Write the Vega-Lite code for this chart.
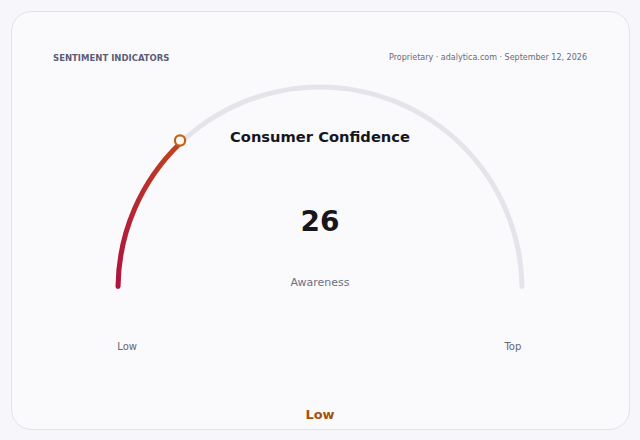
{
  "$schema": "https://vega.github.io/schema/vega-lite/v6.json",
  "width": 640,
  "height": 440,
  "autosize": {"type": "fit", "contains": "padding"},
  "padding": 11,
  "background": "#f7f7fb",
  "config": {
    "view": {"fill": "#fafafd", "stroke": "#e1e1ea", "strokeWidth": 1, "cornerRadius": 20},
    "font": "DejaVu Sans",
    "text": {"font": "DejaVu Sans"}
  },
  "datasets": {
    "track": [{"start": 0, "end": 100}],
    "progress": [{"start": 0, "end": 26}],
    "reading": [{
      "section": "SENTIMENT INDICATORS",
      "source": "Proprietary · adalytica.com · September 12, 2026",
      "metric": "Consumer Confidence",
      "value": 26,
      "measure": "Awareness",
      "band": "Low",
      "min_label": "Low",
      "max_label": "Top",
      "marker_x": -0.693,
      "marker_y": 0.735
    }]
  },
  "layer": [
    {
      "data": {"name": "track"},
      "mark": {"type": "arc", "radius": 204.5, "radius2": 199.5, "cornerRadius": 2.5, "color": "#e4e4ea"},
      "encoding": {
        "theta": {"field": "start", "type": "quantitative", "stack": null, "scale": {"domain": [0, 100], "range": [-1.5707963, 1.5707963]}},
        "theta2": {"field": "end"},
        "x": {"datum": 0, "type": "quantitative", "scale": {"domain": [-1.53, 1.53], "nice": false, "zero": false}, "axis": null},
        "y": {"datum": 0, "type": "quantitative", "scale": {"domain": [-0.693, 1.376], "nice": false, "zero": false}, "axis": null}
      }
    },
    {
      "data": {"name": "progress"},
      "mark": {"type": "arc", "radius": 204.5, "radius2": 199.5, "cornerRadius": 2.5,
        "color": {"gradient": "linear", "x1": 0, "y1": 1, "x2": 1, "y2": 0,
          "stops": [{"offset": 0, "color": "#b0123f"}, {"offset": 1, "color": "#c2441d"}]}},
      "encoding": {
        "theta": {"field": "start", "type": "quantitative", "stack": null, "scale": {"domain": [0, 100], "range": [-1.5707963, 1.5707963]}},
        "theta2": {"field": "end"},
        "x": {"datum": 0, "type": "quantitative", "scale": {"domain": [-1.53, 1.53], "nice": false, "zero": false}, "axis": null},
        "y": {"datum": 0, "type": "quantitative", "scale": {"domain": [-0.693, 1.376], "nice": false, "zero": false}, "axis": null}
      }
    },
    {
      "data": {"name": "reading"},
      "mark": {"type": "point", "filled": false, "fill": "#fdf7ef", "fillOpacity": 1, "stroke": "#c0641a", "strokeWidth": 2.2, "size": 105, "opacity": 1},
      "encoding": {
        "x": {"field": "marker_x", "type": "quantitative", "scale": {"domain": [-1.53, 1.53], "nice": false, "zero": false}, "axis": null},
        "y": {"field": "marker_y", "type": "quantitative", "scale": {"domain": [-0.693, 1.376], "nice": false, "zero": false}, "axis": null}
      }
    },
    {
      "data": {"name": "reading"},
      "mark": {"type": "text", "align": "left", "baseline": "middle", "fontSize": 8.5, "fontWeight": "bold", "letterSpacing": 0.4, "color": "#5b5e74"},
      "encoding": {
        "text": {"field": "section"},
        "x": {"datum": -1.322, "type": "quantitative", "scale": {"domain": [-1.53, 1.53], "nice": false, "zero": false}, "axis": null},
        "y": {"datum": 1.145, "type": "quantitative", "scale": {"domain": [-0.693, 1.376], "nice": false, "zero": false}, "axis": null}
      }
    },
    {
      "data": {"name": "reading"},
      "mark": {"type": "text", "align": "right", "baseline": "middle", "fontSize": 8, "color": "#676a7a"},
      "encoding": {
        "text": {"field": "source"},
        "x": {"datum": 1.322, "type": "quantitative", "scale": {"domain": [-1.53, 1.53], "nice": false, "zero": false}, "axis": null},
        "y": {"datum": 1.145, "type": "quantitative", "scale": {"domain": [-0.693, 1.376], "nice": false, "zero": false}, "axis": null}
      }
    },
    {
      "data": {"name": "reading"},
      "mark": {"type": "text", "align": "center", "baseline": "middle", "fontSize": 14.7, "fontWeight": "bold", "color": "#16161d"},
      "encoding": {
        "text": {"field": "metric"},
        "x": {"datum": 0, "type": "quantitative", "scale": {"domain": [-1.53, 1.53], "nice": false, "zero": false}, "axis": null},
        "y": {"datum": 0.746, "type": "quantitative", "scale": {"domain": [-0.693, 1.376], "nice": false, "zero": false}, "axis": null}
      }
    },
    {
      "data": {"name": "reading"},
      "mark": {"type": "text", "align": "center", "baseline": "middle", "fontSize": 28, "fontWeight": "bold", "color": "#16161d"},
      "encoding": {
        "text": {"field": "value", "type": "quantitative", "format": "d"},
        "x": {"datum": 0, "type": "quantitative", "scale": {"domain": [-1.53, 1.53], "nice": false, "zero": false}, "axis": null},
        "y": {"datum": 0.328, "type": "quantitative", "scale": {"domain": [-0.693, 1.376], "nice": false, "zero": false}, "axis": null}
      }
    },
    {
      "data": {"name": "reading"},
      "mark": {"type": "text", "align": "center", "baseline": "middle", "fontSize": 11, "color": "#6e6e7e"},
      "encoding": {
        "text": {"field": "measure"},
        "x": {"datum": 0, "type": "quantitative", "scale": {"domain": [-1.53, 1.53], "nice": false, "zero": false}, "axis": null},
        "y": {"datum": 0.03, "type": "quantitative", "scale": {"domain": [-0.693, 1.376], "nice": false, "zero": false}, "axis": null}
      }
    },
    {
      "data": {"name": "reading"},
      "mark": {"type": "text", "align": "center", "baseline": "middle", "fontSize": 10, "color": "#66666f"},
      "encoding": {
        "text": {"field": "min_label"},
        "x": {"datum": -0.955, "type": "quantitative", "scale": {"domain": [-1.53, 1.53], "nice": false, "zero": false}, "axis": null},
        "y": {"datum": -0.287, "type": "quantitative", "scale": {"domain": [-0.693, 1.376], "nice": false, "zero": false}, "axis": null}
      }
    },
    {
      "data": {"name": "reading"},
      "mark": {"type": "text", "align": "center", "baseline": "middle", "fontSize": 10, "color": "#66666f"},
      "encoding": {
        "text": {"field": "max_label"},
        "x": {"datum": 0.955, "type": "quantitative", "scale": {"domain": [-1.53, 1.53], "nice": false, "zero": false}, "axis": null},
        "y": {"datum": -0.287, "type": "quantitative", "scale": {"domain": [-0.693, 1.376], "nice": false, "zero": false}, "axis": null}
      }
    },
    {
      "data": {"name": "reading"},
      "mark": {"type": "text", "align": "center", "baseline": "middle", "fontSize": 13, "fontWeight": "bold", "color": "#a5520f"},
      "encoding": {
        "text": {"field": "band"},
        "x": {"datum": 0, "type": "quantitative", "scale": {"domain": [-1.53, 1.53], "nice": false, "zero": false}, "axis": null},
        "y": {"datum": -0.625, "type": "quantitative", "scale": {"domain": [-0.693, 1.376], "nice": false, "zero": false}, "axis": null}
      }
    }
  ]
}
